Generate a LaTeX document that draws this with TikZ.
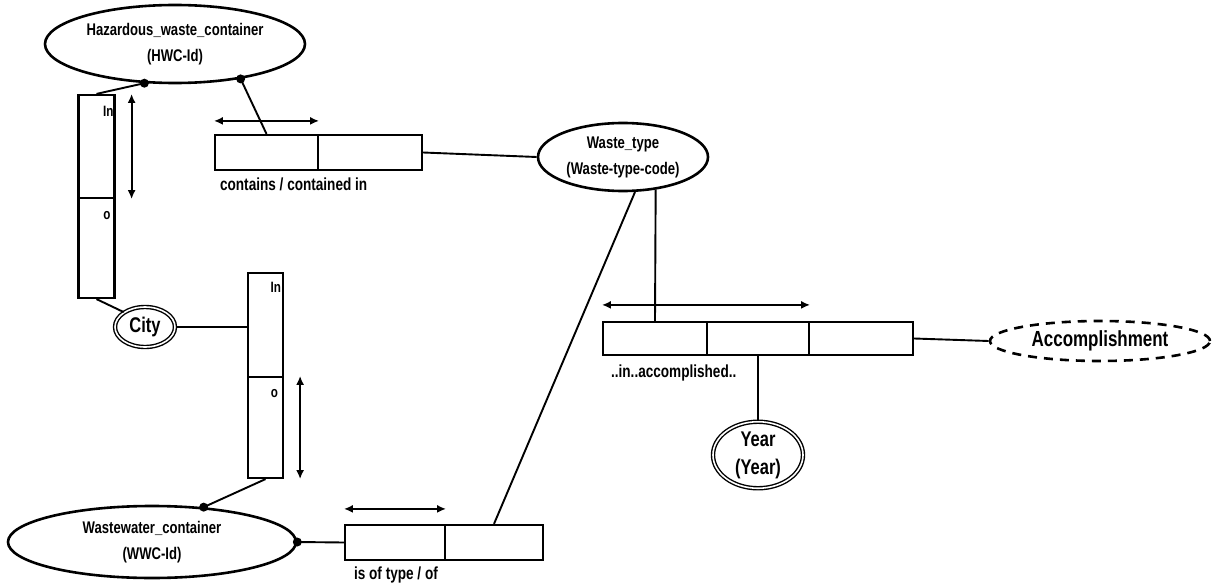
\documentclass[tikz,border=0pt]{standalone}
\usepackage{fontspec}
\usepackage{graphicx}
\setmainfont{Liberation Sans}
\usetikzlibrary{shapes.geometric,arrows.meta}

% tall bold lettering as in the scanned figure
\newcommand{\tallt}[1]{\scalebox{0.97}[1.25]{#1}}

\tikzset{
  entity/.style={ellipse, draw, line width=2.6pt, align=center, inner sep=0pt,
    font=\bfseries\fontsize{13.5}{26}\selectfont},
  valent/.style={ellipse, draw, double, double distance=1.6pt, line width=1.4pt, align=center, inner sep=0pt,
    font=\bfseries\fontsize{17}{28}\selectfont},
  roleh/.style={rectangle, draw, line width=2.2pt, minimum height=35pt, inner sep=0pt},
  rolev/.style={rectangle, draw, line width=2.2pt, minimum width=36pt, inner sep=0pt},
  roledir/.style={line width=1.8pt, {Latex[length=9pt,width=8pt]}-{Latex[length=9pt,width=8pt]}},
  link/.style={line width=1.9pt},
  reading/.style={font=\bfseries\fontsize{14}{16}\selectfont, inner sep=0pt},
  rolename/.style={font=\bfseries\fontsize{12}{14}\selectfont, inner sep=0pt, anchor=north east}
}

\begin{document}
\begin{tikzpicture}[x=1pt, y=-1pt]
    \useasboundingbox (0,0) rectangle (1213,586);

    % Object types
    \node[entity, minimum width=260pt, minimum height=78pt] (hwc) at (175,44) {\tallt{Hazardous\_waste\_container}\\\tallt{(HWC-Id)}};
    \node[entity, minimum width=170pt, minimum height=68pt] (waste) at (623,157) {\tallt{Waste\_type}\\\tallt{(Waste-type-code)}};
    \node[entity, minimum width=288pt, minimum height=72pt] (wwc) at (152,542) {\tallt{Wastewater\_container}\\\tallt{(WWC-Id)}};
    \node[entity, dashed, dash pattern=on 9pt off 7pt, minimum width=220pt, minimum height=40pt,
      font=\bfseries\fontsize{17.5}{20}\selectfont] (acc) at (1100,341) {\tallt{Accomplishment}};

    % Value types
    \node[valent, minimum width=60pt, minimum height=40pt] (city) at (145,327) {\tallt{City}};
    \node[valent, minimum width=90pt, minimum height=62pt] (year) at (758,455) {\tallt{Year}\\\tallt{(Year)}};

    % contains / contained in
    \node[roleh, minimum width=103pt] (c1) at (266.5,152.5) {};
    \node[roleh, minimum width=104pt] (c2) at (370,152.5) {};
    \node[reading, anchor=north west] (cl) at ([xshift=6pt, yshift=-7pt]c1.south west) {\tallt{contains / contained in}};
    \draw[roledir] ([yshift=13pt]c1.north west) -- ([yshift=13pt]c1.north east);

    % HWC in city
    \node[rolev, minimum height=103pt] (r1a) at (96.5,146.5) {};
    \node[rolev, minimum height=100pt] (r1b) at (96.5,248) {};
    \node[rolename] (r1an) at ([xshift=-2pt, yshift=-12pt]r1a.north east) {\tallt{In}};
    \node[rolename] (r1bn) at ([xshift=-5pt, yshift=-14pt]r1b.north east) {\tallt{o}};
    \draw[roledir] ([xshift=16pt]r1a.north east) -- ([xshift=16pt]r1a.south east);

    % WWC in city
    \node[rolev, minimum width=35pt, minimum height=104pt] (r2a) at (265.5,325) {};
    \node[rolev, minimum width=35pt, minimum height=101pt] (r2b) at (265.5,427.5) {};
    \node[rolename] (r2an) at ([xshift=-3pt, yshift=-10pt]r2a.north east) {\tallt{In}};
    \node[rolename] (r2bn) at ([xshift=-6pt, yshift=-13pt]r2b.north east) {\tallt{o}};
    \draw[roledir] ([xshift=16pt]r2b.north east) -- ([xshift=16pt]r2b.south east);

    % is of type / of
    \node[roleh, minimum width=100pt] (d1) at (395,542.5) {};
    \node[roleh, minimum width=98pt] (d2) at (494,542.5) {};
    \node[reading, anchor=north west] (dl) at ([xshift=10pt, yshift=-6pt]d1.south west) {\tallt{is of type / of}};
    \draw[roledir] ([yshift=15pt]d1.north west) -- ([yshift=15pt]d1.north east);

    % ..in..accomplished..
    \node[roleh, minimum width=104pt, minimum height=33pt] (a1) at (655,338.5) {};
    \node[roleh, minimum width=102pt, minimum height=33pt] (a2) at (758,338.5) {};
    \node[roleh, minimum width=104pt, minimum height=33pt] (a3) at (861,338.5) {};
    \node[reading, anchor=north west] (al) at ([xshift=9pt, yshift=-9pt]a1.south west) {\tallt{..in..accomplished..}};
    \draw[roledir] ([yshift=16pt]a1.north west) -- ([yshift=16pt]a2.north east);

    % connectors
    \draw[link] (hwc.232) -- (r1a.north);
    \draw[link] (hwc.332) -- (c1.north);
    \draw[link] (c2.east) -- (waste.west);
    \draw[link] (r1b.south) -- (city.145);
    \draw[link] (city.east) -- (city.east -| r2a.west);
    \draw[link] (r2b.south) -- (wwc.34);
    \draw[link] (wwc.east) -- (d1.west);
    \draw[link] (d2.north) -- (waste.289);
    \draw[link] (waste.315) -- (a1.north);
    \draw[link] (a3.east) -- (acc.west);
    \draw[link] (a2.south) -- (year.north);

    % mandatory dots
    \fill (hwc.232) circle (4.5pt);
    \fill (hwc.332) circle (4.5pt);
    \fill (wwc.34) circle (4.5pt);
    \fill (wwc.east) circle (4.5pt);
\end{tikzpicture}
\end{document}
